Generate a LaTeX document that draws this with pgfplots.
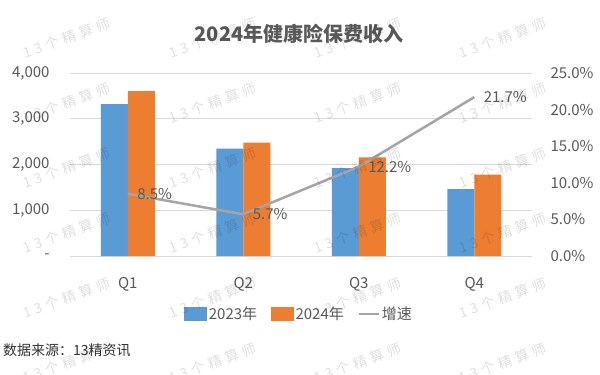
\documentclass[border=0pt]{standalone}
\usepackage{fontspec}
\setmainfont{Noto Sans CJK SC}
\usepackage{pgfplots}
\pgfplotsset{compat=1.18}
\definecolor{cblue}{HTML}{5B9BD5}
\definecolor{corange}{HTML}{ED7D31}
\definecolor{cgray}{HTML}{A5A5A5}
\definecolor{cgrid}{HTML}{D9D9D9}
\definecolor{ctext}{HTML}{595959}
\begin{document}
\begin{tikzpicture}[x=1bp,y=1bp]
\useasboundingbox (0,0) rectangle (600,374);
\fill[white] (0,0) rectangle (600,374);
\begin{axis}[
  at={(70bp,118bp)}, anchor=south west,
  scale only axis, width=462bp, height=183bp,
  xmin=-0.5, xmax=3.5, ymin=0, ymax=4000,
  xtick={0,1,2,3}, xticklabels={Q1,Q2,Q3,Q4},
  ytick={0,1000,2000,3000,4000},
  yticklabels={{-\hspace{10bp}},{1,000},{2,000},{3,000},{4,000}},
  ymajorgrids, grid style={draw=cgrid, line width=0.9bp},
  axis line style={draw=none}, major tick length=0pt,
  ticklabel style={font=\fontsize{15bp}{18bp}\selectfont, text=ctext},
  yticklabel style={xshift=-17bp},
  xticklabel style={yshift=-18bp},
  ybar=0pt, bar width=27bp,
]
\addplot[fill=cblue, draw=none] coordinates {(0,3320) (1,2345) (2,1920) (3,1460)};
\addplot[fill=corange, draw=none] coordinates {(0,3602) (1,2479) (2,2154) (3,1777)};
\end{axis}
\begin{axis}[
  at={(70bp,118bp)}, anchor=south west,
  scale only axis, width=462bp, height=183bp,
  xmin=-0.5, xmax=3.5, ymin=0, ymax=25,
  axis y line*=right, axis x line=none,
  axis line style={draw=none}, major tick length=0pt,
  ytick={0,5,10,15,20,25},
  /pgf/number format/assume math mode=true,
  yticklabel={\pgfmathprintnumber[fixed,fixed zerofill,precision=1]{\tick}\%},
  yticklabel style={font=\fontsize{15bp}{18bp}\selectfont, text=ctext, anchor=west, xshift=15bp},
  legend columns=3,
  legend style={at={(0.496,-0.317)}, anchor=center, draw=none, fill=none,
    font=\fontsize{15bp}{18bp}\selectfont, text=ctext,
    /tikz/every even column/.append style={column sep=12bp}},
]
\addlegendimage{legend image code/.code={\fill[cblue] (0bp,-6.5bp) rectangle (22bp,6.5bp);}}
\addlegendentry{2023年}
\addlegendimage{legend image code/.code={\fill[corange] (0bp,-6.5bp) rectangle (22bp,6.5bp);}}
\addlegendentry{2024年}
\addplot[color=cgray, line width=2.5bp, mark=none,
  legend image code/.code={\draw[cgray, line width=2bp] (0bp,0bp) -- (20bp,0bp);},
  nodes near coords, point meta=explicit symbolic,
  every node near coord/.style={anchor=west, xshift=5bp, font=\fontsize{15bp}{18bp}\selectfont, text=ctext}]
  coordinates {(0,8.5) [8.5\%] (1,5.7) [5.7\%] (2,12.2) [12.2\%] (3,21.7) [21.7\%]};
\addlegendentry{增速}
\end{axis}
\node[font=\fontsize{20bp}{24bp}\selectfont\bfseries, text=ctext] at (299,340) {2024年健康险保费收入};
\node[anchor=west, font=\fontsize{14bp}{17bp}\selectfont, text=black!80, inner sep=0pt] at (3,24) {数据来源：13精资讯};
\foreach \cx in {67,213,358,503} {
  \foreach \cy in {38,103,168,233,298,363} {
    \node[rotate=20, text=black, text opacity=0.12, font=\fontsize{14bp}{14bp}\selectfont]
      at (\cx, {374-\cy}) {1\hspace{4bp}3\hspace{4bp}个\hspace{4bp}精\hspace{4bp}算\hspace{4bp}师};
  }
}
\end{tikzpicture}
\end{document}
